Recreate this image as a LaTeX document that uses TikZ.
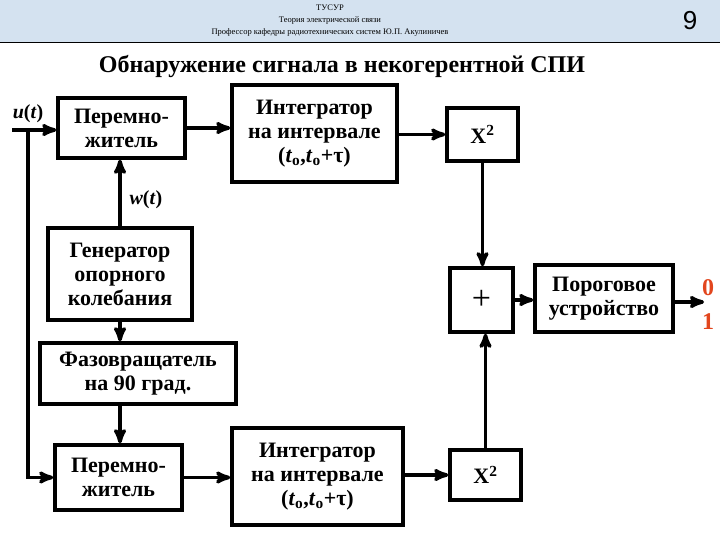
\documentclass[tikz,border=0pt]{standalone}
\usepackage{fontspec}
\setmainfont{Liberation Serif}
\newfontfamily\hdrsans{Liberation Sans}
\usetikzlibrary{arrows,positioning}
\definecolor{hdrblue}{RGB}{212,226,240}
\definecolor{outred}{RGB}{226,70,30}
\tikzset{
  blk/.style={draw,line width=3.5pt,align=center,inner sep=1pt,font=\fontsize{22}{24}\selectfont\bfseries},
  sig/.style={->,>=stealth',line width=3.5pt},
  lbl/.style={font=\fontsize{20}{22}\selectfont\bfseries}
}
\newcommand{\tint}{(\textit{t}\textsubscript{o},\textit{t}\textsubscript{o}+τ)}
\begin{document}
\begin{tikzpicture}[x=1pt,y=-1pt]
\useasboundingbox (0,0) rectangle (720,540);
% header
\fill[hdrblue] (0,0) rectangle (720,42);
\draw[line width=1pt] (0,43) -- (720,43);
\node[font=\fontsize{8.5}{12}\selectfont,align=center] (hdr) at (330,21) {ТУСУР\\Теория электрической связи\\Профессор кафедры радиотехнических систем Ю.П. Акулиничев};
\node[font=\hdrsans\fontsize{26}{26}\selectfont] (pg) at (690,21) {9};
\node[font=\fontsize{24}{26}\selectfont\bfseries] (title) at (342,67) {Обнаружение сигнала в некогерентной СПИ};
% blocks
\node[blk,minimum width=127pt,minimum height=60pt] (mul1) at (121.5,128) {Перемно-\\житель};
\node[blk,minimum width=165pt,minimum height=97pt] (int1) at (314.5,133.5) {Интегратор\\на интервале\\\tint};
\node[blk,minimum width=71pt,minimum height=53pt] (sq1) at (482.5,134.5) {X\textsuperscript{2}};
\node[blk,minimum width=144pt,minimum height=92pt] (gen) at (120,274) {Генератор\\опорного\\колебания};
\node[blk,minimum width=196pt,minimum height=61pt] (phs) at (138,373.5) {Фазовращатель\\на 90 град.};
\node[blk,minimum width=127pt,minimum height=65pt] (mul2) at (118.5,477.5) {Перемно-\\житель};
\node[blk,minimum width=171pt,minimum height=97pt] (int2) at (317.5,476.5) {Интегратор\\на интервале\\\tint};
\node[blk,minimum width=71pt,minimum height=50pt] (sq2) at (485.5,475) {X\textsuperscript{2}};
\node[blk,minimum width=63pt,minimum height=64pt,font=\fontsize{34}{34}\selectfont] (sum) at (481.5,300) {+};
\node[blk,minimum width=138pt,minimum height=67pt] (thr) at (604,298.5) {Пороговое\\устройство};
% labels and free ends
\coordinate (in) at (12,130);
\coordinate (tap) at (28,130);
\coordinate (out) at (704,302);
\node[lbl,anchor=south] (ulab) at (28,126) {\textit{u}(\textit{t})};
\node[lbl,anchor=west] (wlab) at (126,200) {\textit{w}(\textit{t})};
\node[font=\fontsize{24}{24}\selectfont\bfseries,text=outred] (o0) at (708,288) {0};
\node[font=\fontsize{24}{24}\selectfont\bfseries,text=outred] (o1) at (708,322) {1};
% connectors
\draw[sig] (in) -- (mul1.west |- in);
\draw[sig] (tap) |- (mul2.west);
\draw[sig] (mul1.east) -- (int1.west |- mul1.east);
\draw[sig] (int1.east |- sq1.west) -- (sq1.west);
\draw[sig] (gen.north) -- (gen.north |- mul1.south);
\draw[sig] (gen.south) -- (gen.south |- phs.north);
\draw[sig] (gen.south |- phs.south) -- (gen.south |- mul2.north);
\draw[sig] (mul2.east) -- (int2.west |- mul2.east);
\draw[sig] (int2.east |- sq2.west) -- (sq2.west);
\draw[sig] (sq2.north) -- (sq2.north |- sum.south);
\draw[sig] (sq1.south) -- (sq1.south |- sum.north);
\draw[sig] (sum.east) -- (thr.west |- sum.east);
\draw[sig] (thr.east |- out) -- (out);
\end{tikzpicture}
\end{document}
